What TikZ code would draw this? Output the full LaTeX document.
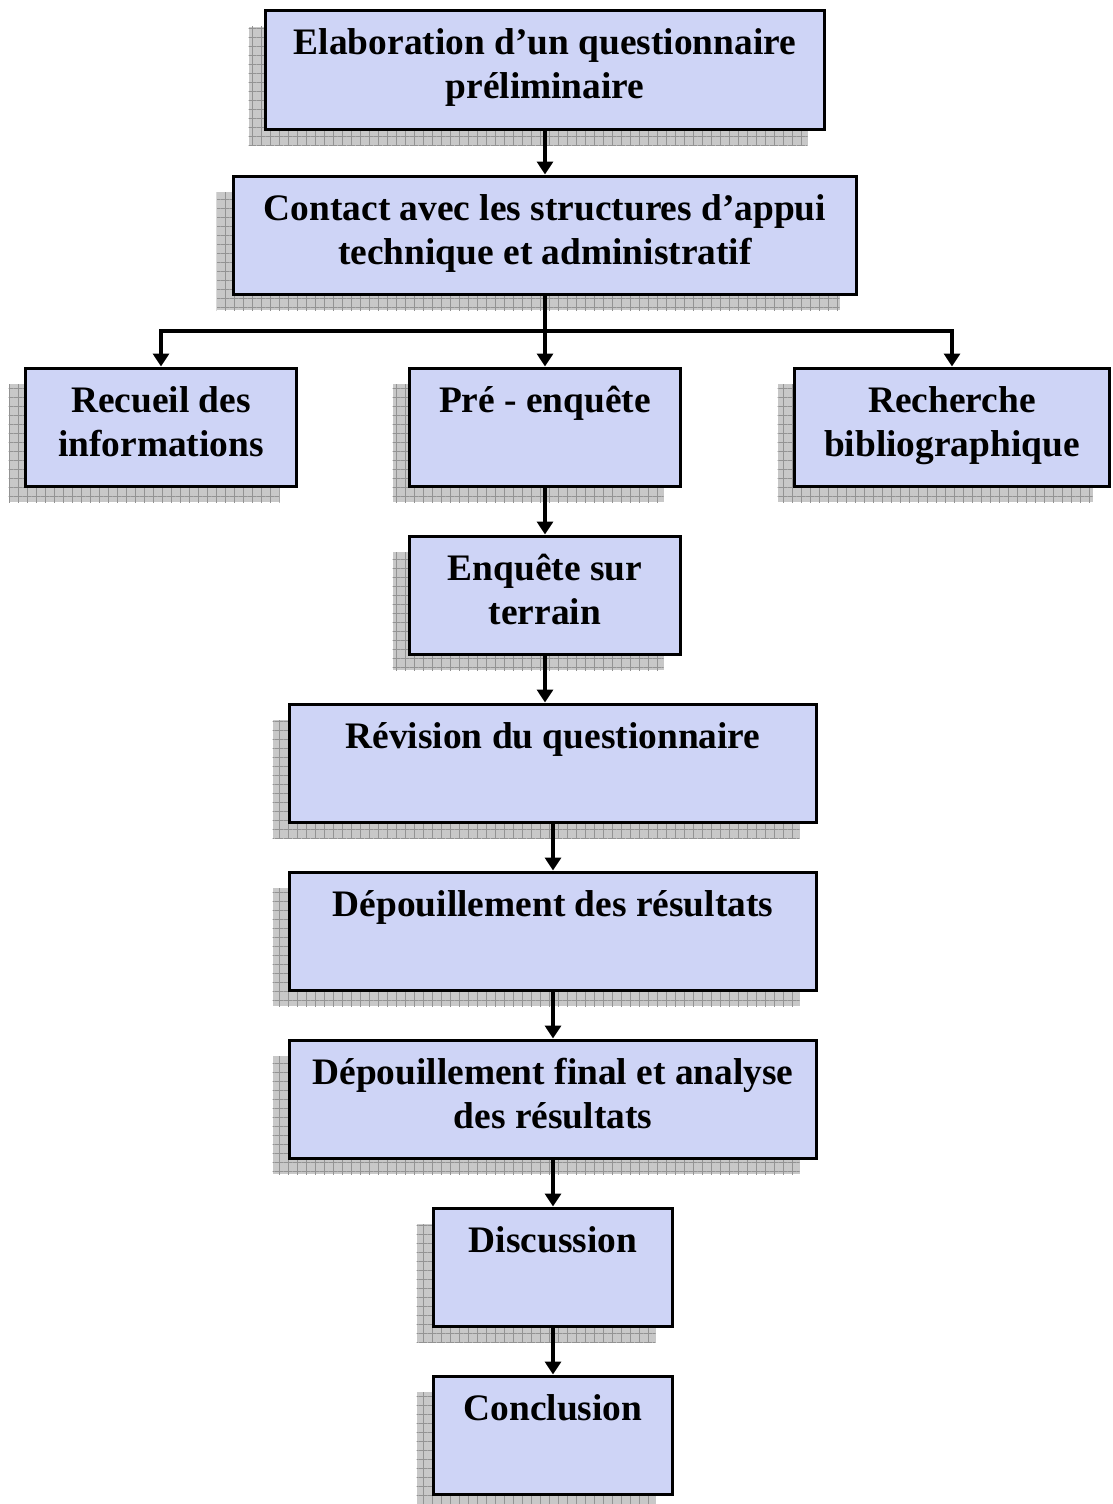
\documentclass[tikz,border=0pt]{standalone}
\usepackage{fontspec}
\setmainfont{Liberation Serif}
\usetikzlibrary{shadows,calc,arrows.meta,patterns.meta}
\definecolor{stagefill}{RGB}{206,212,246}
\definecolor{shadowgray}{RGB}{200,200,200}

\begin{document}
\begin{tikzpicture}[x=1pt, y=-1pt,
    stage/.style={draw, line width=3pt, fill=stagefill, anchor=north,
      text width=#1, inner xsep=0pt, inner ysep=0pt, align=flush center,
      text height=44pt, text depth=74pt,
      font=\bfseries\fontsize{37.4}{44}\selectfont,
      drop shadow={shadow xshift=-17pt, shadow yshift=-16pt, opacity=1,
        fill=shadowgray, draw=none,
        postaction={pattern={Hatch[angle=0, distance=9pt, line width=0.7pt]}, pattern color=gray!85}}},
    flow/.style={line width=3.5pt, -{Triangle[width=16pt, length=13pt]}}]
  \useasboundingbox (0,0) rectangle (1112,1504);

  % Stages of the study
  \node[stage=559] (elab) at (545,9.5) {Elaboration d’un questionnaire\\ préliminaire};
  \node[stage=623] (contact) at (545,174.5) {Contact avec les structures d’appui\\ technique et administratif};
  \node[stage=271] (recueil) at (161,366.5) {Recueil des\\ informations};
  \node[stage=271] (preenq) at (545,366.5) {Pré - enquête};
  \node[stage=315] (biblio) at (952,366.5) {Recherche\\ bibliographique};
  \node[stage=271] (terrain) at (545,534.5) {Enquête sur\\ terrain};
  \node[stage=527] (revision) at (553,702.5) {Révision du questionnaire};
  \node[stage=527] (depouil) at (553,870.5) {Dépouillement des résultats};
  \node[stage=527] (final) at (553,1038.5) {Dépouillement final et analyse\\ des résultats};
  \node[stage=239] (discuss) at (553,1206.5) {Discussion};
  \node[stage=239] (concl) at (553,1374.5) {Conclusion};

  % Connectors
  \coordinate (fork) at ($(contact.south)!.5!(preenq.north)$);
  \draw[flow] (elab) -- (contact);
  \draw[line width=3.5pt] (contact.south) -- (fork);
  \draw[flow] (fork) -| (recueil.north);
  \draw[flow] (fork) -- (preenq.north);
  \draw[flow] (fork) -| (biblio.north);
  \draw[flow] (preenq) -- (terrain);
  \draw[flow] (terrain.south) -- (terrain.south |- revision.north);
  \draw[flow] (revision) -- (depouil);
  \draw[flow] (depouil) -- (final);
  \draw[flow] (final) -- (discuss);
  \draw[flow] (discuss) -- (concl);
\end{tikzpicture}
\end{document}
